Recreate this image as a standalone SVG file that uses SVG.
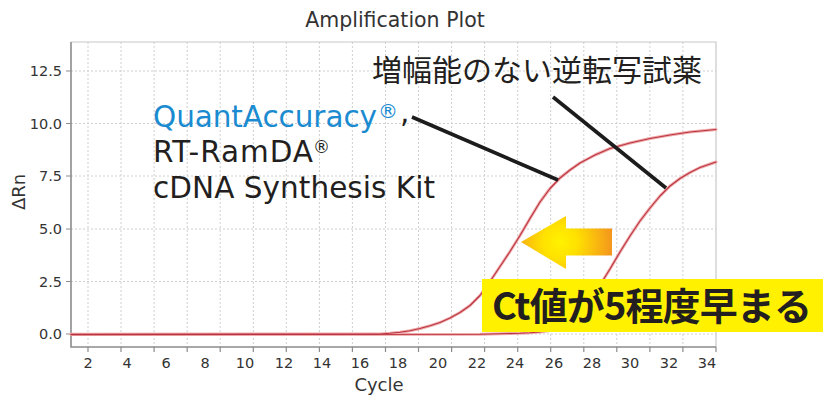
<svg xmlns="http://www.w3.org/2000/svg" width="831" height="396" viewBox="0 0 831 396">
<style>
.grid{stroke:#cfcfcf;stroke-width:1;stroke-dasharray:2 2;fill:none}
.frame{stroke:#c8c8c8;stroke-width:1.2;fill:none}
.axis{stroke:#8c8c8c;stroke-width:1.6;fill:none}
.tick{stroke:#8c8c8c;stroke-width:1.2}
.tl{font-family:"DejaVu Sans",Verdana,sans-serif;font-size:14.5px;fill:#333}
.ax{font-family:"DejaVu Sans",Verdana,sans-serif;fill:#333}
.halo{fill:none;stroke:#eeaaaa;stroke-width:3;stroke-linejoin:round;stroke-linecap:round}
.core{fill:none;stroke:#bb3340;stroke-width:1.1;stroke-linejoin:round;stroke-linecap:round}
.lead{stroke:#1c1c1c;stroke-width:3.6;stroke-linecap:butt}
.lab{font-family:"DejaVu Sans",Verdana,sans-serif;font-size:29.5px;fill:#231f20}
.blue{fill:#1a8bd0}
.jp{font-family:"Noto Sans CJK JP","Noto Sans",sans-serif;fill:#231f20}
</style>
<defs>
<radialGradient id="arrowGrad" gradientUnits="userSpaceOnUse" cx="560" cy="242" r="58">
<stop offset="0" stop-color="#fff200"/>
<stop offset="0.3" stop-color="#ffe100"/>
<stop offset="1" stop-color="#f28a22"/>
</radialGradient>
</defs>
<rect x="0" y="0" width="831" height="396" fill="#ffffff"/>

<g id="grid">
<path class="grid" d="M88,42V347M121,42V347M154.1,42V347M187.2,42V347M220.2,42V347M253.3,42V347M286.3,42V347M319.4,42V347M352.4,42V347M385.5,42V347M418.5,42V347M451.6,42V347M484.6,42V347M517.7,42V347M550.7,42V347M583.8,42V347M616.8,42V347M649.9,42V347M682.9,42V347"/>
<path class="grid" d="M71,71H716M71,123.5H716M71,176H716M71,229H716M71,281.5H716M71,334H716"/>
</g>

<g id="axes">
<path class="frame" d="M71,42H716V347"/>
<path class="axis" d="M71,42V347H716"/>
<path class="tick" d="M66,71H71M66,123.5H71M66,176H71M66,229H71M66,281.5H71M66,334H71"/>
<path class="tick" d="M88,347V352M121,347V352M154.1,347V352M187.2,347V352M220.2,347V352M253.3,347V352M286.3,347V352M319.4,347V352M352.4,347V352M385.5,347V352M418.5,347V352M451.6,347V352M484.6,347V352M517.7,347V352M550.7,347V352M583.8,347V352M616.8,347V352M649.9,347V352M682.9,347V352M716,347V352"/>
<g class="tl" text-anchor="end">
<text x="62" y="76">12.5</text>
<text x="62" y="128.5">10.0</text>
<text x="62" y="181">7.5</text>
<text x="62" y="234">5.0</text>
<text x="62" y="286.5">2.5</text>
<text x="62" y="339">0.0</text>
</g>
<g class="tl" text-anchor="middle">
<text x="88" y="368">2</text>
<text x="127" y="368">4</text>
<text x="166" y="368">6</text>
<text x="205" y="368">8</text>
<text x="245" y="368">10</text>
<text x="284" y="368">12</text>
<text x="322" y="368">14</text>
<text x="360" y="368">16</text>
<text x="398" y="368">18</text>
<text x="438" y="368">20</text>
<text x="477" y="368">22</text>
<text x="515" y="368">24</text>
<text x="554" y="368">26</text>
<text x="592" y="368">28</text>
<text x="630" y="368">30</text>
<text x="669" y="368">32</text>
<text x="707" y="368">34</text>
</g>
<text class="ax" x="395" y="27" font-size="20.5" text-anchor="middle">Amplification Plot</text>
<text class="ax" x="379" y="391" font-size="18" text-anchor="middle">Cycle</text>
<text class="ax" font-size="18" text-anchor="middle" transform="translate(25,192) rotate(-90)">ΔRn</text>
</g>

<g id="curves">
<polyline id="curve-quantaccuracy-halo" class="halo" points="71,334.3 380,334 390,333.3 400,332.3 410,330.7 420,328.5 430,325.8 440,322.5 450,318 460,312.5 470,305.5 480,295.5 490,281.5 500,266.5 510,251.5 520,235.5 530,218.5 540,202 550,188.5 560,178 570,170 580,163 595,155 610,148.5 630,143 650,138.5 670,135 690,132 716,129.5"/>
<polyline id="curve-conventional-halo" class="halo" points="71,334.6 480,334.3 500,333.8 520,333.3 530,332.8 540,332 550,330.5 560,327.5 570,322 580,313 590,300 600,285 610,269 620,252 630,236 640,221 650,208 660,196 670,186 680,178.5 690,172.5 700,167.5 716,162"/>
<polyline id="curve-quantaccuracy" class="core" points="71,334.3 380,334 390,333.3 400,332.3 410,330.7 420,328.5 430,325.8 440,322.5 450,318 460,312.5 470,305.5 480,295.5 490,281.5 500,266.5 510,251.5 520,235.5 530,218.5 540,202 550,188.5 560,178 570,170 580,163 595,155 610,148.5 630,143 650,138.5 670,135 690,132 716,129.5"/>
<polyline id="curve-conventional" class="core" points="71,334.6 480,334.3 500,333.8 520,333.3 530,332.8 540,332 550,330.5 560,327.5 570,322 580,313 590,300 600,285 610,269 620,252 630,236 640,221 650,208 660,196 670,186 680,178.5 690,172.5 700,167.5 716,162"/>
</g>

<g id="connectors">
<line class="lead" x1="412" y1="117" x2="558" y2="180"/>
<line class="lead" x1="553" y1="97" x2="666" y2="188"/>
</g>

<g id="shift-arrow">
<polygon points="521,242 566,216 566,228.5 612,228.5 612,255.5 566,255.5 566,269" fill="url(#arrowGrad)"/>
</g>

<g id="label-quantaccuracy">
<text class="lab blue" x="153" y="127" textLength="224" lengthAdjust="spacing">QuantAccuracy</text>
<text class="lab blue" x="378" y="118" style="font-size:20px">®</text>
<text class="lab" x="400" y="122">,</text>
<text class="lab" x="153" y="162" textLength="160" lengthAdjust="spacing">RT-RamDA</text>
<text class="lab" x="313" y="153" style="font-size:17px">®</text>
<text class="lab" x="153" y="198" textLength="282" lengthAdjust="spacing">cDNA Synthesis Kit</text>
</g>

<g id="label-conventional">
<text class="jp" x="372" y="81" font-size="30">増幅能のない逆転写試薬</text>
</g>

<g id="ct-callout">
<rect x="482" y="279" width="341" height="53" fill="#fff100"/>
<text class="jp" x="492" y="320" font-size="38" font-weight="bold" textLength="320" lengthAdjust="spacing">Ct値が5程度早まる</text>
</g>
</svg>
